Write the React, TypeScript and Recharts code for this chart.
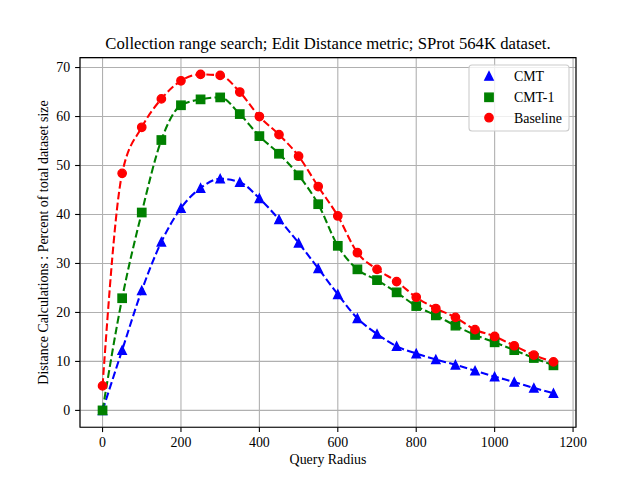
import React from 'react';
import {
  LineChart,
  Line,
  XAxis,
  YAxis,
  CartesianGrid,
  ReferenceArea,
  Customized,
} from 'recharts';

const radius = [
  0, 50, 100, 150, 200, 250, 300, 350, 400, 450, 500, 550, 600, 650, 700,
  750, 800, 850, 900, 950, 1000, 1050, 1100, 1150,
];
const cmt = [
  0, 12.3, 24.5, 34.4, 41.3, 45.4, 47.3, 46.6, 43.3, 39.0, 34.2, 29.0, 23.7,
  18.8, 15.6, 13.1, 11.6, 10.4, 9.3, 8.1, 6.9, 5.8, 4.6, 3.5,
];
const cmt1 = [
  0, 22.9, 40.4, 55.2, 62.3, 63.5, 63.9, 60.5, 56.0, 52.4, 48.0, 42.1, 33.6,
  28.8, 26.6, 24.1, 21.3, 19.4, 17.3, 15.4, 13.9, 12.3, 10.7, 9.2,
];
const baseline = [
  5.0, 48.4, 57.8, 63.6, 67.3, 68.6, 68.4, 65.0, 60.0, 56.3, 51.9, 45.7, 39.7,
  32.2, 28.8, 26.3, 23.1, 20.8, 19.0, 16.5, 15.1, 13.2, 11.3, 9.9,
];
const xTicks = [0, 200, 400, 600, 800, 1000, 1200];
const yTicks = [0, 10, 20, 30, 40, 50, 60, 70];
const seriesNames = ['CMT', 'CMT-1', 'Baseline'];

const title = 'Collection range search; Edit Distance metric; SProt 564K dataset.';
const xLabel = 'Query Radius';
const yLabel = 'Distance Calculations : Percent of total dataset size';

const data = radius.map((r, i) => ({
  r,
  cmt: cmt[i],
  cmt1: cmt1[i],
  base: baseline[i],
}));

const X_DOMAIN: [number, number] = [-57.5, 1207.5];
const Y_DOMAIN: [number, number] = [-3.43, 72.03];
const FONT = '"Liberation Serif", "DejaVu Serif", serif';
const MS = 4.17; // half marker size

// marker shapes
const Triangle = ({ cx, cy, color }: any) => (
  <path
    d={`M${cx},${cy - MS}L${cx - MS},${cy + MS}L${cx + MS},${cy + MS}Z`}
    fill={color}
    stroke={color}
    strokeWidth={1.39}
    strokeLinejoin="miter"
  />
);
const Square = ({ cx, cy, color }: any) => (
  <rect
    x={cx - MS}
    y={cy - MS}
    width={MS * 2}
    height={MS * 2}
    fill={color}
    stroke={color}
    strokeWidth={1.39}
  />
);
const Circle = ({ cx, cy, color }: any) => (
  <circle cx={cx} cy={cy} r={MS} fill={color} stroke={color} strokeWidth={1.39} />
);

const Texts = () => (
  <g fontFamily={FONT} fill="#000">
    <text x={328} y={49} fontSize={16.7} textAnchor="middle">
      {title}
    </text>
    <text x={328} y={464} fontSize={13.9} textAnchor="middle">
      {xLabel}
    </text>
    <text
      x={0}
      y={0}
      fontSize={13.9}
      textAnchor="middle"
      transform="translate(47.5,242.5) rotate(-90)"
    >
      {yLabel}
    </text>
    {/* legend */}
    <rect
      x={469}
      y={65}
      width={100}
      height={66}
      rx={3}
      fill="#fff"
      fillOpacity={0.8}
      stroke="#cccccc"
      strokeWidth={1.1}
    />
    <Triangle cx={489} cy={76} color="#0000ff" />
    <Square cx={489} cy={97.3} color="#008000" />
    <Circle cx={489} cy={117.7} color="#ff0000" />
    <text x={514} y={81} fontSize={13.9}>{seriesNames[0]}</text>
    <text x={514} y={102} fontSize={13.9}>{seriesNames[1]}</text>
    <text x={514} y={122.5} fontSize={13.9}>{seriesNames[2]}</text>
  </g>
);

function App() {
  const tick = { fill: '#000', fontSize: 13.9, fontFamily: FONT };
  return (
    <div style={{ position: 'absolute', left: 0, top: 0, width: 640, height: 480, background: '#fff' }}>
      <LineChart
        width={640}
        height={480}
        data={data}
        margin={{ top: 57.6, right: 64, bottom: 22.8, left: 20 }}
      >
        <CartesianGrid stroke="#b0b0b0" strokeWidth={1.1} />
        <XAxis
          dataKey="r"
          type="number"
          domain={X_DOMAIN}
          ticks={xTicks}
          interval={0}
          allowDataOverflow
          height={30}
          axisLine={false}
          tickSize={4.9}
          tickMargin={5}
          tickLine={{ stroke: '#000', strokeWidth: 1.1 }}
          tick={tick}
        />
        <YAxis
          type="number"
          domain={Y_DOMAIN}
          ticks={yTicks}
          interval={0}
          allowDataOverflow
          width={60}
          axisLine={false}
          tickSize={4.9}
          tickMargin={5}
          tickLine={{ stroke: '#000', strokeWidth: 1.1 }}
          tick={tick}
        />
        <Line
          type="monotone"
          dataKey="cmt"
          stroke="#0000ff"
          strokeWidth={2.08}
          strokeDasharray="7.7 3.3"
          isAnimationActive={false}
          activeDot={false}
          dot={(p: any) => <Triangle key={`t${p.index}`} cx={p.cx} cy={p.cy} color="#0000ff" />}
        />
        <Line
          type="monotone"
          dataKey="cmt1"
          stroke="#008000"
          strokeWidth={2.08}
          strokeDasharray="7.7 3.3"
          isAnimationActive={false}
          activeDot={false}
          dot={(p: any) => <Square key={`s${p.index}`} cx={p.cx} cy={p.cy} color="#008000" />}
        />
        <Line
          type="monotone"
          dataKey="base"
          stroke="#ff0000"
          strokeWidth={2.08}
          strokeDasharray="7.7 3.3"
          isAnimationActive={false}
          activeDot={false}
          dot={(p: any) => <Circle key={`c${p.index}`} cx={p.cx} cy={p.cy} color="#ff0000" />}
        />
        <ReferenceArea
          x1={X_DOMAIN[0]}
          x2={X_DOMAIN[1]}
          y1={Y_DOMAIN[0]}
          y2={Y_DOMAIN[1]}
          ifOverflow="visible"
          fill="none"
          fillOpacity={0}
          stroke="#000"
          strokeWidth={1.1}
        />
        <Customized component={Texts} />
      </LineChart>
    </div>
  );
}

export default App;
